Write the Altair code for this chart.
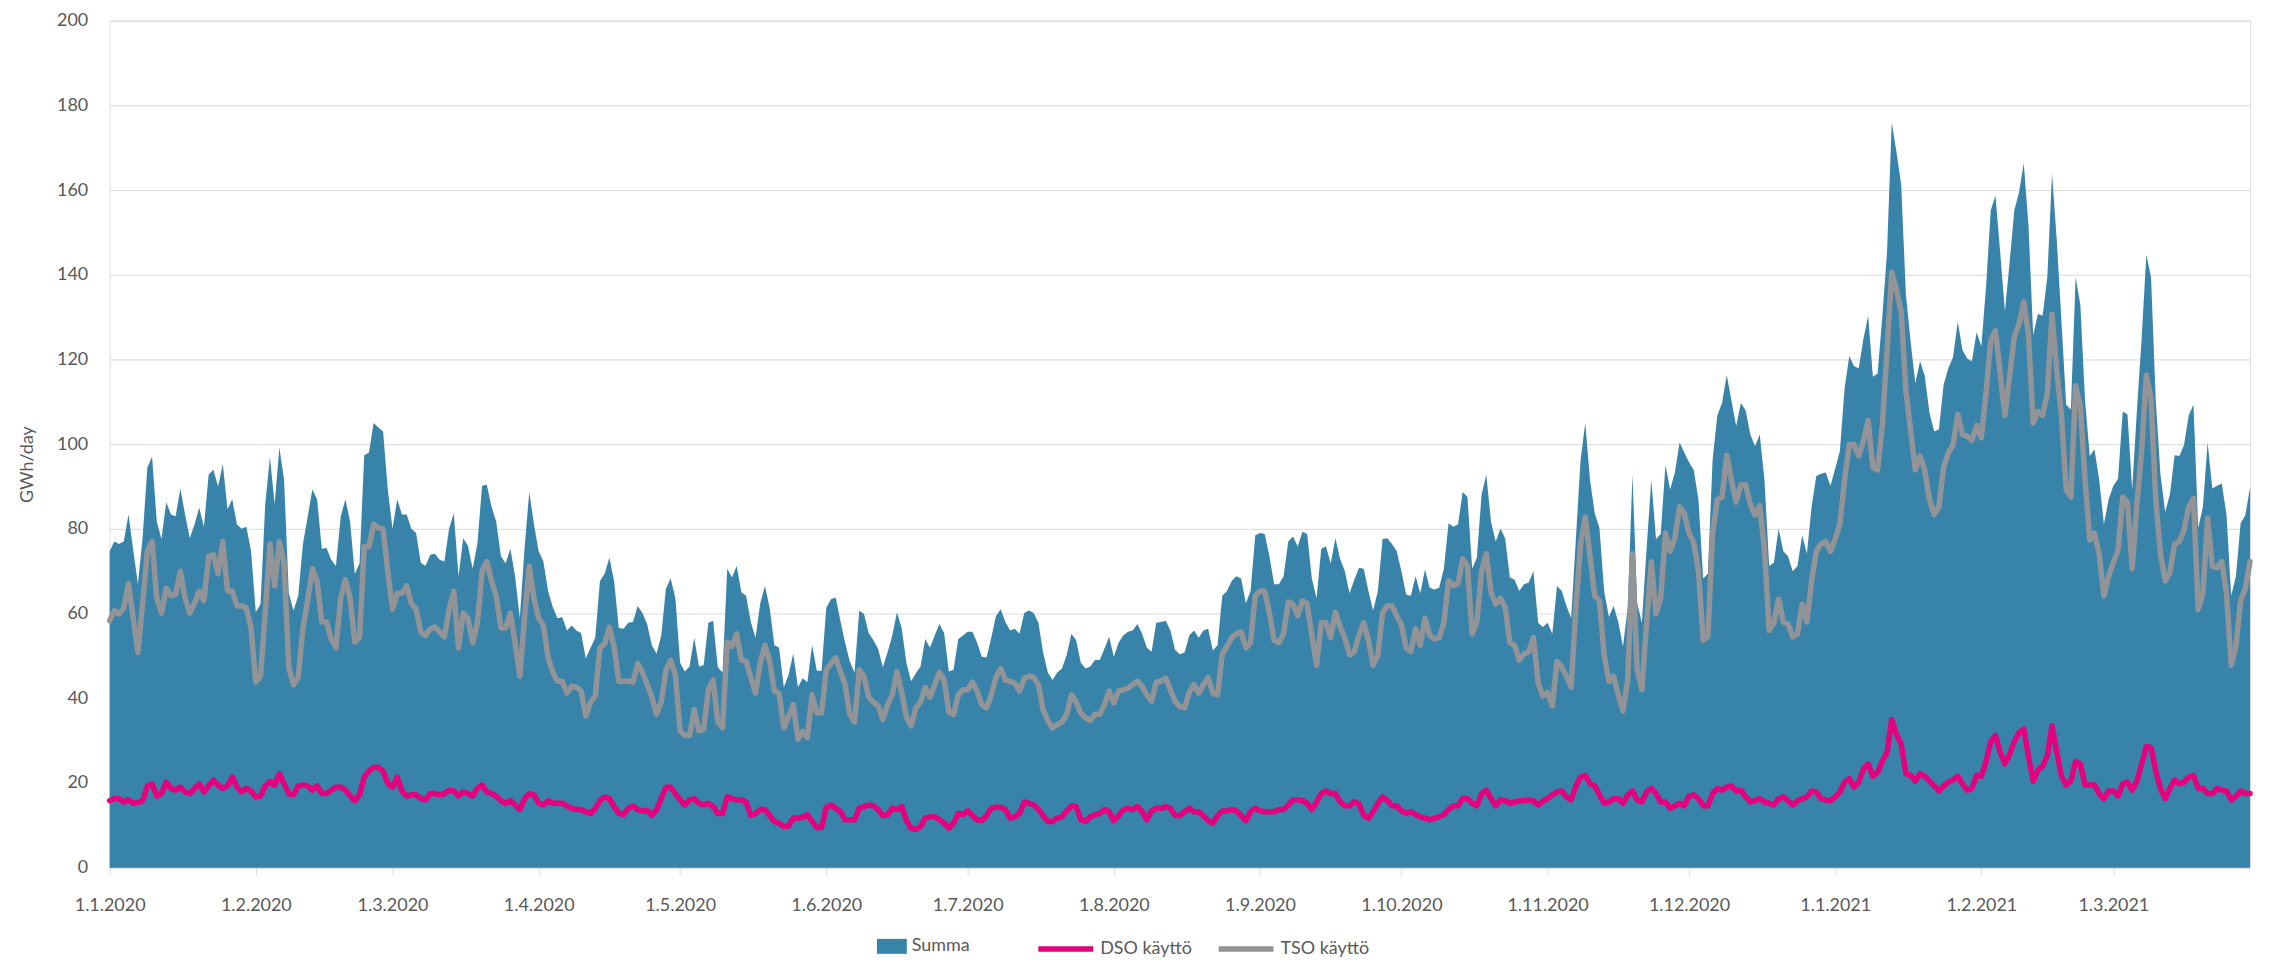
import altair as alt
import pandas as pd

start_date = "2020-01-01"

summa = [
    74.7, 77, 76.4, 77, 83.4, 75, 67, 78, 94.5, 97,
    81.7, 77.6, 86.3, 83.4, 83, 89.5, 83.4, 77.8, 81, 85,
    80.5, 92.8, 94, 90, 95.3, 84.6, 87, 81, 80, 80.5,
    74.7, 60.3, 62.2, 85.8, 96.9, 85.8, 99.2, 91.6,
    64.8, 60.7, 64.2, 76.4, 82.8, 89.3, 87, 75.3, 75.5, 72.7,
    71.2, 82.8, 87, 81.7, 69.4, 71.8, 97.4, 98, 105, 103.9,
    103, 89.3, 80, 87, 83.4, 83.4, 80, 79, 72, 71.2,
    73.9, 74.1, 72.7, 72.3, 80, 83.7, 68.8, 77.8, 76,
    70.6, 76.4, 90.2, 90.4, 85.2, 81.7, 73.5, 71.8, 75.3, 68.8,
    58.9, 75.3, 88.7, 81.1, 74.7, 72.3, 65.3, 61.5, 58.9, 59.2,
    56, 57.2, 56, 55.4, 49.4, 51.9, 54.3, 67.7, 69.4, 73.2,
    67.7, 56.6, 56.4, 57.8, 58, 61.8, 60.1, 57.5,
    52.5, 50.5, 54.8, 65.9, 68.3, 63.6, 48.4, 46.3, 47.5, 54.3,
    47.5, 47.8, 57.8, 58.3, 47.3, 46.1, 70.6, 68.5, 71.2, 65,
    64.2, 58, 54.3, 62.4, 66.5, 61.3, 52.5, 51.9, 42.6, 45.5,
    50.5, 42.6, 44.7, 43.8, 52.5, 46.5, 46.5,
    61.3, 63.4, 63.8, 58.3, 53.1, 48.7, 46.1, 60.7, 59.9, 55.4,
    53.7, 51.7, 47.3, 50.8, 54.8, 60.3, 56.6, 48.4, 44, 45.9,
    47.5, 54, 51.9, 54.8, 57.5, 55.4, 46.3, 46.7, 54, 54.8,
    55.7, 55.7, 53.1, 49.8, 49.6, 54.3, 59.4, 61,
    58, 56, 56.4, 55.2, 60.1, 60.7, 60.1, 57.8, 50.8, 46.1,
    44.3, 46.1, 47, 50.2, 55.2, 53.7, 48.4, 47, 47.5, 49,
    49, 51.7, 54.5, 49.8, 53.1, 54.8, 55.7, 56, 57.5, 55.2,
    51.9, 51, 57.8, 58, 58.3, 56, 51.4, 50.4,
    50.8, 54.8, 56, 54.3, 56, 56.4, 51.3, 52.5, 64.2, 65.3,
    67.7, 68.8, 68.3, 62.4, 65.3, 78.5, 79, 78.8, 73.5, 66.9,
    66.9, 68.8, 77, 78.2, 75.8, 79.3, 78.8, 68.3, 63.6, 75.3,
    75.8, 71.8, 77.8, 72.9, 70, 64.8, 68, 70.8,
    70.6, 65.3, 60.7, 65.3, 77.6, 77.8, 76.4, 74.7, 70, 64.5,
    64.2, 68.8, 64.8, 70.4, 66.1, 65.7, 66.1, 70.6, 81.3, 80.5,
    81, 88.7, 87.5, 70.6, 73.2, 88.1, 92.8, 81.7, 77, 80,
    77.8, 68.5, 68, 65.3, 66.9, 67.3, 70, 57.8, 56.8,
    57.8, 55.2, 66.5, 65.3, 61.8, 58.9, 77.6, 96.3, 105, 91.6,
    83.7, 80.2, 65.3, 59.2, 61.8, 58, 52.2, 61.3, 92.8, 62.4,
    57.8, 75.3, 91.6, 77.6, 78.8, 95.1, 89.3, 93.3, 100.4, 98,
    95.7, 93.9, 86.9, 68.3, 69.4, 96.3, 106.7,
    109.7, 116.3, 110.3, 104.2, 109.7, 108, 102.3, 99.5, 102.3, 91.6,
    71.2, 72, 80, 74.7, 73.5, 70, 71.2, 78.5, 74.1, 85.2,
    92.5, 93, 93.3, 90.2, 94.2, 98.4, 113.2, 120.8, 118.4, 117.9,
    124.9, 130.3, 115.9, 116.7, 130.1, 145.3, 176, 169,
    161.3, 135.4, 124.3, 114.4, 119.6, 116.1, 107.4, 103, 103.5, 114,
    117.9, 120.5, 128.9, 122.2, 120.2, 119.6, 126.4, 123.1, 137.1, 155.2,
    158.7, 145.3, 131.3, 142.9, 155.2, 159.5, 166.3, 151.7, 125.7, 130.7,
    130.3, 139.4, 163.9, 148.2, 128.9, 109.3, 108.2,
    139.4, 133, 110.3, 97.2, 98.8, 91.6, 81.1, 86.9, 90.2, 91.8,
    107.7, 107, 89.3, 107.9, 124.9, 144.7, 139.4, 110.3, 92.8, 84,
    88.1, 97.4, 97.2, 99.8, 106.8, 109.3, 80.2, 85.2, 100.4, 89.5,
    90.2, 90.7, 83.4, 64.2, 68.8, 81.3, 83.2, 89.8,
]

tso = [
    58.3, 60.7, 59.9, 61.3, 67.1, 59, 50.8, 62.4, 74.7, 77,
    63.6, 60.1, 65.9, 64.2, 64.5, 70, 63.6, 60.1, 62.4, 65.3,
    63, 73.5, 73.9, 69.4, 77, 65.3, 65.3, 61.8, 61.8, 61.3,
    56.6, 43.8, 45.2, 60.1, 76.4, 66.5, 77, 71.8,
    47.3, 43.2, 44.9, 56.6, 63, 70.6, 67.7, 58, 58, 54,
    51.9, 63.6, 68, 63.6, 53.2, 54.3, 75.8, 75.8, 81.1, 80.2,
    80, 70, 61, 64.8, 64.8, 66.5, 62.4, 61, 55.7, 54.8,
    56.4, 56.8, 55.7, 54.5, 61, 65.3, 51.9, 60.1, 58.9,
    53.1, 57.8, 70, 72.3, 67.7, 64.2, 56.6, 56.6, 60.1, 53.1,
    45.2, 58.9, 71.2, 63.6, 58.9, 57.2, 49.6, 46.1, 44, 44,
    41.2, 42.8, 42.6, 41.7, 35.8, 39.1, 40.5, 51.9, 52.9, 56.8,
    52.2, 44, 44, 44, 43.8, 48.2, 46.1, 43.3,
    40.3, 36.2, 39.1, 46.7, 49, 45.5, 32.3, 31.2, 31.2, 37.3,
    32.3, 32.7, 42, 44.3, 34.4, 33, 53.3, 52.2, 55.2, 49,
    48.7, 44.9, 41.2, 48.4, 52.5, 48.7, 41.7, 41.2, 33, 35.6,
    38.5, 30.3, 32.1, 30.7, 40.8, 36.5, 36.5,
    46.7, 48.2, 49.6, 46.3, 43.2, 36.2, 34.4, 46.7, 45.2, 40.3,
    39.1, 38.2, 35, 38.5, 40.8, 46.3, 41.4, 35.6, 33.5, 37.7,
    39.1, 42.6, 40.3, 43.2, 46.1, 44.3, 36.8, 36.2, 40.8, 42,
    42, 43.8, 41.7, 38.5, 37.7, 40.8, 45, 47,
    44.3, 44, 43.5, 41.7, 44.7, 45.2, 44.9, 43.2, 37.3, 34.7,
    33, 33.8, 34.4, 36.2, 40.8, 39.1, 36.5, 35.4, 34.7, 36.2,
    36.2, 38.5, 41.7, 38.9, 41.7, 42, 42.4, 43.2, 44, 42.8,
    40.8, 39.3, 43.8, 44, 44.7, 42, 39.2, 38,
    37.7, 41.4, 43.2, 41.2, 43.2, 44.9, 41.2, 40.8, 50.5, 52.2,
    54.3, 55.2, 55.7, 51.9, 53.1, 64.2, 65.3, 65.3, 60.1, 53.7,
    53.1, 55.2, 62.7, 62.2, 59.5, 63, 62.4, 54.8, 47.8, 57.8,
    57.8, 54.3, 60.3, 56.8, 54.3, 50.2, 51, 55,
    57.8, 53.7, 47.8, 50.2, 60.3, 61.8, 61.8, 59.5, 57.2, 51.9,
    51, 56.4, 52.5, 58.9, 54.8, 54, 54.3, 57.8, 67.7, 66.5,
    67.1, 72.9, 71.2, 55.2, 58, 70, 74.1, 65, 62.2, 63.6,
    61.5, 53.1, 52.5, 49, 50.5, 51, 54.3, 43.6, 40.5,
    41.4, 38.2, 48.7, 47.3, 45.2, 42.6, 61.3, 76.4, 82.8, 73.5,
    64.2, 63, 50.2, 44, 45.2, 40.8, 37, 44.3, 74.1, 46.7,
    42, 57.8, 72.3, 59.9, 63.6, 79, 74.7, 77.8, 85.2, 83.7,
    79, 76.7, 70, 53.7, 54.5, 78.8, 86.9,
    87.5, 97.4, 91.6, 86.3, 90.4, 90.4, 85.8, 83.2, 85.5, 75.3,
    56, 57.8, 63.4, 58, 57.5, 54.5, 55.2, 62.2, 58, 67.7,
    74.7, 76.4, 77, 74.7, 77.6, 81.1, 91.6, 99.9, 99.9, 97.2,
    100.9, 105.6, 94.5, 93.9, 104.4, 121.9, 140.6, 136.5,
    131.3, 112.6, 103.3, 93.9, 97.2, 93.9, 86.9, 83.4, 85.2, 94.5,
    98, 99.8, 107, 102.3, 101.9, 100.9, 104.4, 101.5, 112, 124.5,
    126.8, 116.7, 106.8, 116.1, 125.4, 128.4, 133.6, 126, 105, 107.7,
    106.8, 112, 130.7, 117.3, 106.8, 89.3, 87.5,
    113.8, 109.1, 91.6, 77.4, 79, 74.1, 64.2, 68.8, 72, 75,
    87.5, 86.3, 70.6, 85.8, 98.6, 116.3, 110.9, 86.9, 74.1, 67.7,
    69.7, 76.4, 77, 79.7, 85.2, 87.2, 61, 64.8, 82.5, 71.2,
    70.8, 72.3, 64.8, 47.8, 52.2, 63, 65.9, 72.3,
]

dso = [
    15.8, 16.3, 16.3, 15.5, 16, 15.2, 15.4, 15.8, 19.3, 19.8,
    16.9, 17.5, 20.2, 18.7, 18.3, 19, 17.9, 17.5, 18.7, 19.8,
    17.9, 19.3, 20.7, 19.5, 18.7, 19.3, 21.4, 19, 17.9, 18.7,
    18.1, 16.7, 16.9, 19.3, 20.4, 19.5, 22.2, 19.8,
    17.5, 17.2, 19.3, 19.5, 19.3, 18.3, 19.3, 17.5, 17.5, 18.3,
    19, 19, 18.3, 16.9, 15.8, 17.2, 21.4, 22.8, 23.7, 23.7,
    22.8, 19.8, 19, 21.4, 18.1, 16.9, 17.2, 17.2, 16.3, 16,
    17.5, 17.5, 17.2, 17.5, 18.3, 18.1, 16.9, 17.9, 17.5,
    16.9, 18.7, 19.5, 17.9, 17.5, 16.9, 15.8, 15.2, 15.8, 14.8,
    13.7, 16.3, 17.5, 17.2, 15.2, 14.8, 15.8, 15.2, 15.2, 15.2,
    14.6, 14, 13.7, 13.7, 13.2, 12.8, 14, 15.8, 16.7, 16.3,
    14.4, 12.8, 12.5, 14, 14.6, 13.7, 13.4, 13.5,
    12.3, 13.7, 16.3, 19, 19, 17.5, 16, 14.8, 16, 16.3,
    15.2, 14.8, 15.2, 14.4, 12.8, 12.8, 16.7, 16.3, 16, 16,
    15.5, 12.3, 12.8, 13.7, 13.7, 12.3, 10.9, 10.5, 9.7, 9.9,
    11.7, 11.7, 11.9, 12.5, 10.9, 9.5, 9.5,
    14.2, 14.8, 14, 13.2, 11.3, 11.3, 11.3, 14, 14.4, 14.8,
    14.6, 13.7, 12.3, 12.5, 14, 13.7, 14.4, 11.1, 9.3, 9,
    9.7, 11.7, 12, 12, 11.3, 10.5, 9.3, 10.5, 12.8, 12.5,
    13.4, 12.3, 11.3, 11.1, 12.3, 14, 14.3, 14.2,
    13.7, 11.7, 12, 12.8, 15.5, 15.2, 14.8, 13.7, 12.3, 10.9,
    10.9, 11.7, 12, 13.4, 14.6, 14.4, 11.3, 10.9, 12, 12.5,
    12.8, 13.7, 13.2, 11.1, 12.3, 13.7, 14, 13.7, 14.4, 13.2,
    11.3, 13.4, 14, 14, 14.4, 14, 12.3, 12.3,
    13.2, 14, 13.2, 13.2, 12.3, 11.1, 10.5, 12.3, 13.4, 13.4,
    13.7, 13.4, 12.3, 11.1, 13.2, 14, 13.4, 13.2, 13.2, 13.2,
    13.7, 13.7, 14.8, 16, 16, 15.8, 15.2, 13.7, 15.5, 17.5,
    18.1, 17.5, 17.5, 15.5, 14.6, 14.6, 15.6, 15,
    12.3, 11.7, 13.2, 15.2, 16.7, 15.8, 14.6, 14.6, 13.4, 12.8,
    13.2, 12.5, 12, 11.7, 11.3, 11.7, 12, 12.5, 13.7, 14.6,
    14.6, 16.3, 16.3, 15.2, 14.6, 17.5, 18.3, 16.3, 14.6, 16,
    15.8, 15.2, 15.5, 15.8, 15.8, 16, 15.8, 14.8, 15.7,
    16.3, 17.2, 17.9, 18.1, 16.7, 16, 19.3, 21.4, 21.8, 19.8,
    19.3, 17.2, 15.2, 15.5, 16.3, 16.3, 15.2, 17.2, 18.1, 16,
    15.5, 17.9, 18.7, 17.5, 15.5, 15.5, 14, 14.6, 15.2, 14.6,
    16.9, 17.2, 16.3, 14.6, 14.6, 17.5, 18.7,
    18.3, 19, 19.3, 18.1, 18.3, 16.7, 15.5, 15.8, 16.3, 15.5,
    15.2, 14.8, 16.3, 16.7, 15.8, 14.8, 15.8, 16.3, 16.7, 18.1,
    17.9, 16.3, 16, 15.8, 16.7, 17.9, 20.2, 21, 19, 20.2,
    23.3, 24.5, 21.6, 22.5, 25.1, 27.2, 35, 31.5,
    29.2, 22.2, 21.8, 20.4, 22.2, 21.6, 20.4, 19.3, 18.1, 19.3,
    20.2, 20.7, 21.6, 19.8, 18.3, 18.7, 21.8, 21.6, 25.1, 29.8,
    31.2, 27.2, 24.5, 26.8, 29.8, 31.9, 32.7, 26.3, 20.4, 23,
    23.9, 26.5, 33.5, 27.4, 21.6, 19.5, 20.5,
    25.1, 24.5, 19.5, 19.5, 19.5, 17.5, 16.3, 18.1, 18.1, 16.9,
    19.8, 20.2, 18.3, 20.4, 24.5, 28.6, 28.4, 22.8, 18.7, 16.3,
    18.7, 20.7, 19.8, 20.2, 21.4, 21.8, 18.7, 18.7, 17.5, 17.5,
    18.7, 18.3, 18.1, 16, 16.9, 18.1, 17.5, 17.5,
]

tick_months = [
    "2020-01-01", "2020-02-01", "2020-03-01", "2020-04-01", "2020-05-01",
    "2020-06-01", "2020-07-01", "2020-08-01", "2020-09-01", "2020-10-01",
    "2020-11-01", "2020-12-01", "2021-01-01", "2021-02-01", "2021-03-01",
]
y_ticks = list(range(0, 201, 20))

assert len(summa) == len(tso) == len(dso), (len(summa), len(tso), len(dso))

BLUE = "#3783AA"
PINK = "#E5007D"
GRAY = "#929497"
TEXT = "#595959"
GRID = "#D9D9D9"
FONT = "Lato"
FS = 18

n = len(summa)
dates = pd.date_range(start_date, periods=n, freq="D").strftime("%Y-%m-%d")
df = pd.DataFrame({"date": dates, "Summa": summa,
                   "DSO käyttö": dso, "TSO käyttö": tso})
long = df.melt(id_vars="date", value_vars=["DSO käyttö", "TSO käyttö"],
               var_name="series", value_name="value")

tick_ms = [int(pd.Timestamp(m, tz="UTC").timestamp() * 1000) for m in tick_months]

x_enc = alt.X(
    "date:T",
    scale=alt.Scale(type="utc", nice=False),
    axis=alt.Axis(
        values=tick_ms,
        labelExpr="utcFormat(datum.value, '%-d.%-m.%Y')",
        grid=False, tickColor=GRID, tickSize=7, domainColor=GRID,
        labelFont=FONT, labelFontSize=FS, labelColor=TEXT,
        labelPadding=22, labelFlush=False, labelOverlap=False,
    ),
    title=None,
)

y_axis = alt.Axis(
    values=y_ticks, grid=True, gridColor=GRID, ticks=False, tickSize=0,
    domain=False, labelFont=FONT, labelFontSize=FS, labelColor=TEXT,
    labelPadding=22, title="GWh/day", titleFont=FONT, titleFontSize=FS,
    titleFontWeight="normal", titleColor=TEXT, titleX=-82, titleY=445,
    titleBaseline="middle", titleAlign="center",
)
y_scale = alt.Scale(domain=[0, 200], nice=False)

area = alt.Chart(df).transform_calculate(s="'Summa'").mark_area(
    interpolate="linear"
).encode(
    x=x_enc,
    y=alt.Y("Summa:Q", scale=y_scale, axis=y_axis),
    fill=alt.Fill(
        "s:N",
        scale=alt.Scale(domain=["Summa"], range=[BLUE]),
        legend=alt.Legend(
            orient="none", legendX=770, legendY=914, title=None, padding=0,
            symbolType="M-1,-0.5H1V0.5H-1Z", symbolSize=900,
            symbolStrokeWidth=0, labelFont=FONT, labelFontSize=FS,
            labelColor=TEXT, labelOffset=5,
        ),
    ),
)

lines = alt.Chart(long).mark_line(
    strokeWidth=5.5, strokeJoin="round", strokeCap="round"
).encode(
    x=x_enc,
    y=alt.Y("value:Q", scale=y_scale, axis=y_axis),
    stroke=alt.Stroke(
        "series:N",
        scale=alt.Scale(domain=["DSO käyttö", "TSO käyttö"], range=[PINK, GRAY]),
        legend=alt.Legend(
            orient="none", legendX=929, legendY=901, title=None, padding=0,
            direction="horizontal", columns=2, columnPadding=15,
            symbolType="stroke", symbolSize=3025, symbolStrokeWidth=5.5,
            labelFont=FONT, labelFontSize=FS, labelColor=TEXT, labelOffset=4,
        ),
    ),
)

chart = alt.layer(area, lines).properties(
    width=2148, height=850,
    autosize=alt.AutoSizeParams(type="none"),
    padding={"left": 102, "top": 11, "right": 14, "bottom": 88},
).configure_view(stroke=None).configure(background="white")

chart.save("out.html", embed_options={"renderer": "svg", "actions": False})
